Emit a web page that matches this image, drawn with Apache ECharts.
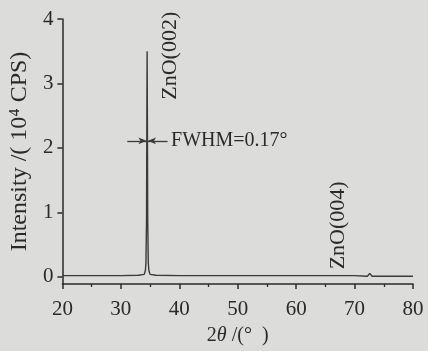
<!DOCTYPE html>
<html>
<head>
<meta charset="utf-8">
<script src="https://cdn.jsdelivr.net/npm/echarts@6/dist/echarts.min.js"></script>
<style>
  html, body { margin: 0; padding: 0; background: #dcdcda; }
  #chart { width: 428px; height: 351px; }
</style>
</head>
<body>
<div id="chart"></div>
<script>
// 2theta (deg) and intensity (10^4 CPS)
const twoTheta = [20, 25, 30, 33, 34.0, 34.2, 34.3, 34.4, 34.45, 34.5, 34.55, 34.6, 34.7, 34.8, 35.0, 35.3, 36, 40, 50, 60, 70, 70.3, 72.2, 72.45, 72.6, 72.75, 73.0, 75, 80];
const intensity = [0.02, 0.02, 0.02, 0.025, 0.04, 0.1, 0.22, 0.9, 2.4, 3.5, 2.4, 0.9, 0.22, 0.1, 0.04, 0.03, 0.025, 0.02, 0.02, 0.02, 0.02, 0.01, 0.01, 0.03, 0.055, 0.03, 0.01, 0.01, 0.01];
const yTicks = [0, 1, 2, 3, 4];
const peakNames = ['ZnO(002)', 'ZnO(004)'];
const peakLabelPos = [[38.5, 3.43], [67.2, 0.8]];
const fwhmText = 'FWHM=0.17°';
const fwhmPos = [38.6, 2.11];
const fwhmArrowLeft = [[31.1, 2.11], [34.38, 2.11]];
const fwhmArrowRight = [[38.0, 2.11], [34.65, 2.11]];

const FONT = 'Liberation Serif';
const INK = '#2a2a2a';

const chart = echarts.init(document.getElementById('chart'));

const option = {
  backgroundColor: '#dcdcda',
  animation: false,
  grid: { left: 62, right: 15, top: 19, bottom: 64 },
  xAxis: {
    type: 'value',
    min: 20,
    max: 80,
    interval: 10,
    name: '2{i|θ} /(°  )',
    nameLocation: 'middle',
    nameGap: 42,
    nameTextStyle: {
      color: INK, fontFamily: FONT, fontSize: 20,
      rich: { i: { fontStyle: 'italic', fontFamily: FONT, fontSize: 20, color: INK } }
    },
    axisLine: { onZero: false, lineStyle: { color: INK, width: 1.5 } },
    axisTick: { length: 5, lineStyle: { color: INK, width: 1.5 } },
    minorTick: { show: true, splitNumber: 2, length: 3, lineStyle: { color: INK, width: 1.3 } },
    axisLabel: { color: INK, fontFamily: FONT, fontSize: 21, margin: 15 },
    splitLine: { show: false }
  },
  yAxis: {
    type: 'value',
    min: -0.11,
    max: 4,
    name: 'Intensity /( 10⁴ CPS)',
    nameLocation: 'middle',
    nameGap: 25,
    nameTextStyle: { color: INK, fontFamily: FONT, fontSize: 24 },
    axisLine: { onZero: false, lineStyle: { color: INK, width: 1.5 } },
    axisTick: { customValues: yTicks, length: 5, lineStyle: { color: INK, width: 1.5 } },
    axisLabel: { customValues: yTicks, color: INK, fontFamily: FONT, fontSize: 21, margin: 9 },
    splitLine: { show: false }
  },
  series: [{
    type: 'line',
    data: twoTheta.map((t, i) => [t, intensity[i]]),
    showSymbol: false,
    lineStyle: { color: '#3a3a3a', width: 1.4 },
    markPoint: {
      silent: true,
      symbolSize: 0,
      data: [
        ...peakNames.map((n, i) => ({
          coord: peakLabelPos[i],
          label: { show: true, formatter: n, position: 'inside', rotate: 90,
                   color: INK, fontFamily: FONT, fontSize: 22 }
        })),
        {
          coord: fwhmPos,
          label: { show: true, formatter: fwhmText, position: 'right', distance: 0,
                   color: INK, fontFamily: FONT, fontSize: 20 }
        }
      ]
    },
    markLine: {
      silent: true,
      label: { show: false },
      lineStyle: { color: '#3a3a3a', width: 1.3, type: 'solid' },
      symbol: ['none', 'arrow'],
      symbolSize: [5, 8],
      data: [
        [{ coord: fwhmArrowLeft[0] }, { coord: fwhmArrowLeft[1] }],
        [{ coord: fwhmArrowRight[0] }, { coord: fwhmArrowRight[1] }]
      ]
    }
  }]
};

chart.setOption(option);
</script>
</body>
</html>
